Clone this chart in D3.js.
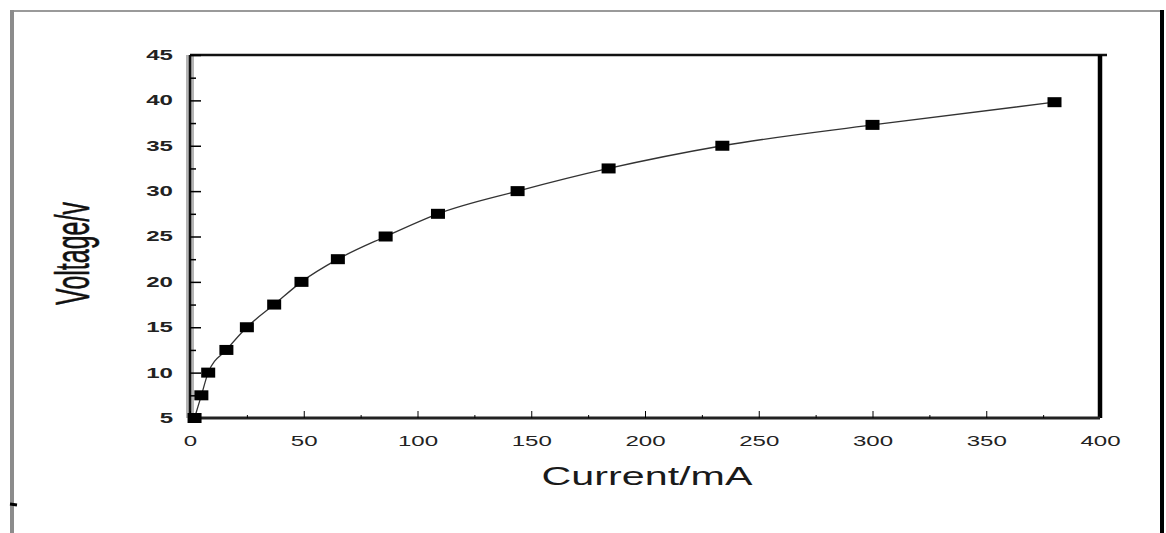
<!DOCTYPE html>
<html>
<head>
<meta charset="utf-8">
<script src="https://cdn.jsdelivr.net/npm/d3@7"></script>
<style>
  body { margin: 0; background: #fff; }
  text { font-family: "Liberation Sans", Arial, sans-serif; }
</style>
</head>
<body>
<div id="chart"></div>
<script>
/* Data */
const current = [2, 5, 8, 16, 25, 37, 49, 65, 86, 109, 144, 184, 234, 300, 380];
const voltage = [5, 7.5, 10, 12.5, 15, 17.5, 20, 22.5, 25, 27.5, 30, 32.5, 35, 37.3, 39.8];
const xTicks = [0, 50, 100, 150, 200, 250, 300, 350, 400];
const xMinor = [25, 75, 125, 175, 225, 275, 325, 375];
const yTicks = [5, 10, 15, 20, 25, 30, 35, 40, 45];
const yMinor = [7.5, 12.5, 17.5, 22.5, 27.5, 32.5, 37.5, 42.5];

const data = current.map((c, i) => ({current: c, voltage: voltage[i]}));

const width = 1166, height = 533;
const margins = {top: 55, right: 66, bottom: 115, left: 190};
const stretch = 1.72; // the scan is stretched sideways

const svg = d3.select("#chart")
  .append("svg")
    .attr("width", width)
    .attr("height", height)
    .attr("viewBox", [0, 0, width, height]);

const xScale = d3.scaleLinear()
  .domain([0, 400])
  .range([margins.left, width - margins.right]);

const yScale = d3.scaleLinear()
  .domain([5, 45])
  .range([height - margins.bottom, margins.top]);

// outer frame of the figure
svg.append("line")
  .attr("x1", 12).attr("x2", 1162).attr("y1", 11).attr("y2", 11)
  .attr("stroke", "#9a9a9a").attr("stroke-width", 2);
svg.append("line")
  .attr("x1", 12).attr("x2", 12).attr("y1", 10).attr("y2", height)
  .attr("stroke", "#8c8c8c").attr("stroke-width", 4);
svg.append("line")
  .attr("x1", 1162).attr("x2", 1162).attr("y1", 10).attr("y2", height)
  .attr("stroke", "#000").attr("stroke-width", 4);
svg.append("line")
  .attr("x1", 10).attr("x2", 17).attr("y1", 504).attr("y2", 505)
  .attr("stroke", "#000").attr("stroke-width", 3);

// plot box
const [x0, x1] = xScale.range();
const [y0, y1] = yScale.range();
svg.append("line")
  .attr("x1", x0).attr("x2", x0).attr("y1", y0).attr("y2", y1)
  .attr("stroke", "#b5b5b5").attr("stroke-width", 8);
svg.append("line")
  .attr("x1", x0).attr("x2", x0).attr("y1", y0).attr("y2", y1)
  .attr("stroke", "#111").attr("stroke-width", 2.5);
svg.append("line")
  .attr("x1", x0).attr("x2", x1 + 7).attr("y1", y1).attr("y2", y1)
  .attr("stroke", "#111").attr("stroke-width", 2.5);
svg.append("line")
  .attr("x1", x1).attr("x2", x1).attr("y1", y1).attr("y2", y0)
  .attr("stroke", "#000").attr("stroke-width", 4.5);
svg.append("line")
  .attr("x1", x0).attr("x2", x1).attr("y1", y0).attr("y2", y0)
  .attr("stroke", "#222").attr("stroke-width", 3);

// axes, ticks pointing inward
const xAxis = svg.append("g")
  .attr("transform", `translate(0,${y0})`)
  .call(d3.axisBottom(xScale).tickValues(xTicks).tickSize(-7).tickPadding(18));
xAxis.select(".domain").remove();
xAxis.selectAll("text")
  .attr("transform", `scale(${stretch},1)`)
  .attr("font-size", 14)
  .attr("fill", "#222");

const xAxisMinor = svg.append("g")
  .attr("transform", `translate(0,${y0})`)
  .call(d3.axisBottom(xScale).tickValues(xMinor).tickSize(-3).tickFormat(""));
xAxisMinor.select(".domain").remove();

const yAxis = svg.append("g")
  .attr("transform", `translate(${x0},0)`)
  .call(d3.axisLeft(yScale).tickValues(yTicks).tickSize(-11));
yAxis.select(".domain").remove();
yAxis.selectAll("line").attr("stroke-width", 1.5);
yAxis.selectAll("text")
  .attr("x", -17 / stretch)
  .attr("transform", `scale(${stretch},1)`)
  .attr("font-size", 14)
  .attr("font-weight", "bold")
  .attr("fill", "#222");

const yAxisMinor = svg.append("g")
  .attr("transform", `translate(${x0},0)`)
  .call(d3.axisLeft(yScale).tickValues(yMinor).tickSize(-6).tickFormat(""));
yAxisMinor.select(".domain").remove();
yAxisMinor.selectAll("line").attr("stroke-width", 1.5);

// axis titles
svg.append("text")
  .attr("transform", `translate(${(x0 + x1) / 2 + 2},485) scale(1.65,1)`)
  .attr("text-anchor", "middle")
  .attr("font-size", 25)
  .attr("fill", "#1a1a1a")
  .text("Current/mA");

svg.append("text")
  .attr("transform", `translate(72,${(y0 + y1) / 2 + 17}) scale(1.9,1) rotate(-90)`)
  .attr("text-anchor", "middle")
  .attr("dy", "0.35em")
  .attr("font-size", 25)
  .attr("fill", "#111")
  .attr("stroke", "#111")
  .attr("stroke-width", 0.3)
  .text("Voltage/v");

// fitted curve
const line = d3.line()
  .x(d => xScale(d.current))
  .y(d => yScale(d.voltage))
  .curve(d3.curveMonotoneX);

svg.append("path")
  .datum(data)
  .attr("d", line)
  .attr("fill", "none")
  .attr("stroke", "#333")
  .attr("stroke-width", 1.3);

// square markers
svg.append("g")
  .selectAll("rect")
  .data(data)
  .join("rect")
    .attr("x", d => xScale(d.current) - 7)
    .attr("y", d => yScale(d.voltage) - 5)
    .attr("width", 14)
    .attr("height", 10)
    .attr("fill", "#000");
</script>
</body>
</html>
